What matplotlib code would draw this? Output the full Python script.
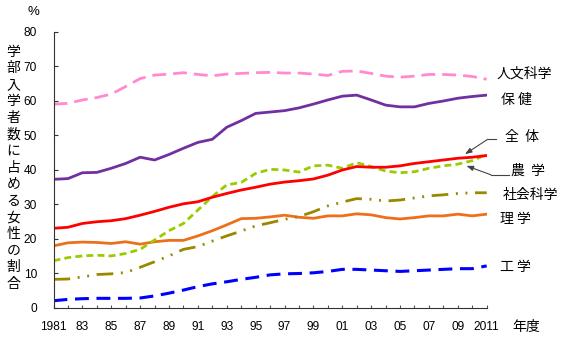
import matplotlib
matplotlib.use("Agg")
import matplotlib.pyplot as plt
from matplotlib.ticker import MultipleLocator

plt.rcParams["font.family"] = ["Liberation Sans", "Noto Sans CJK JP", "DejaVu Sans"]
plt.rcParams["lines.scale_dashes"] = False

years = list(range(1981, 2012))
tick_years = list(range(1981, 2012, 2))
tick_labels = ["1981", "83", "85", "87", "89", "91", "93", "95", "97", "99",
               "01", "03", "05", "07", "09", "2011"]

humanities = [59.1, 59.3, 60.3, 61.0, 62.0, 64.2, 66.5, 67.5, 67.8, 68.2, 67.7,
              67.3, 67.8, 68.0, 68.2, 68.3, 68.1, 68.1, 67.8, 67.4, 68.6, 68.7,
              68.0, 67.2, 66.9, 67.2, 67.7, 67.7, 67.5, 67.1, 66.3]
health = [37.3, 37.5, 39.2, 39.3, 40.5, 41.9, 43.7, 42.9, 44.5, 46.3, 48.0,
          48.9, 52.4, 54.3, 56.4, 56.8, 57.2, 58.0, 59.1, 60.3, 61.4, 61.7,
          60.3, 58.8, 58.3, 58.3, 59.3, 60.0, 60.8, 61.3, 61.7]
total = [23.1, 23.4, 24.5, 25.0, 25.3, 25.9, 26.9, 28.0, 29.2, 30.2, 30.8,
         32.1, 33.2, 34.2, 35.0, 35.9, 36.5, 36.9, 37.4, 38.5, 40.0, 41.0,
         40.8, 40.8, 41.2, 41.9, 42.4, 42.9, 43.4, 43.7, 44.2]
agriculture = [13.7, 14.6, 15.1, 15.3, 15.1, 15.8, 17.0, 19.7, 22.4, 24.5, 28.4,
               32.3, 35.7, 36.4, 39.0, 40.2, 40.0, 39.4, 41.2, 41.4, 40.5, 42.1,
               41.0, 39.7, 39.2, 39.5, 40.5, 41.2, 41.7, 42.7, 44.5]
social = [8.3, 8.4, 9.0, 9.7, 9.9, 10.3, 11.8, 13.4, 15.1, 17.0, 17.8,
          19.4, 20.9, 22.3, 23.8, 24.7, 25.7, 26.5, 27.9, 29.6, 30.7, 31.7,
          31.5, 31.0, 31.3, 31.9, 32.5, 32.8, 33.2, 33.4, 33.4]
science = [18.0, 18.9, 19.1, 19.0, 18.7, 19.2, 18.5, 19.2, 19.6, 19.6, 20.9,
           22.4, 24.1, 25.9, 26.0, 26.4, 26.9, 26.3, 26.0, 26.7, 26.7, 27.3,
           27.0, 26.2, 25.8, 26.2, 26.7, 26.7, 27.2, 26.7, 27.2]
engineering = [2.1, 2.5, 2.7, 2.8, 2.8, 2.8, 2.9, 3.5, 4.3, 5.2, 6.2,
               7.0, 7.6, 8.3, 8.9, 9.6, 9.9, 10.0, 10.2, 10.6, 11.2, 11.2,
               11.0, 10.8, 10.6, 10.8, 11.0, 11.2, 11.4, 11.4, 12.2]

ylabel_text = "学部入学者数に占める女性の割合"

fig = plt.figure(figsize=(5.65, 3.5), dpi=100, facecolor="white")
ax = fig.add_axes([0.0947, 0.12, 0.7667, 0.7886])

ax.plot(years, humanities, color="#FF8AD2", lw=2.0, dashes=(10, 5))
ax.plot(years, health, color="#7030A0", lw=2.0)
ax.plot(years, science, color="#EE6F1A", lw=2.0)
ax.plot(years, social, color="#9C8700", lw=2.0, dashes=(12, 5.5, 1.4, 5.5, 1.4, 5.5))
ax.plot(years, engineering, color="#0000FF", lw=2.2, dashes=(10, 5.5))
ax.plot(years, agriculture, color="#99CC00", lw=2.0, dashes=(5, 3))
ax.plot(years, total, color="#FF0000", lw=2.0)

ax.set_xlim(1981, 2011)
ax.set_ylim(0, 80)
ax.set_xticks(tick_years)
ax.set_xticklabels(tick_labels)
ax.xaxis.set_minor_locator(MultipleLocator(1))
ax.yaxis.set_major_locator(MultipleLocator(10))
ax.tick_params(axis="x", which="both", direction="in", length=2.5, width=0.8,
               color="#555555", labelsize=8.6, pad=9)
ax.tick_params(axis="y", direction="in", length=3, width=0.8,
               color="#333333", labelsize=8.6, pad=12)
for side in ("top", "right"):
    ax.spines[side].set_visible(False)
for side in ("left", "bottom"):
    ax.spines[side].set_color("#333333")
    ax.spines[side].set_linewidth(0.8)

cjk = ["Noto Sans CJK JP", "DejaVu Sans"]
labels = [
    ("人文科学", 2011.7, 68.0),
    ("保 健", 2012.0, 60.3),
    ("全  体", 2012.3, 49.6),
    ("農  学", 2012.7, 39.8),
    ("社会科学", 2012.1, 32.7),
    ("理 学", 2011.9, 25.8),
    ("工 学", 2011.9, 12.0),
]
for text, x, y in labels:
    ax.text(x, y, text, fontsize=10, family=cjk, ha="left", va="center",
            clip_on=False)

# leader arrows for 全体 and 農学
ax.plot([2011.65, 2011.07], [48.9, 48.9], color="#444444", lw=0.8, clip_on=False)
ax.annotate("", xy=(2009.5, 44.6), xytext=(2011.07, 48.9), annotation_clip=False,
            arrowprops=dict(arrowstyle="-|>,head_length=0.4,head_width=0.15",
                            color="#444444", lw=0.8, shrinkA=0, shrinkB=0))
ax.plot([2012.56, 2011.3], [38.6, 38.6], color="#444444", lw=0.8, clip_on=False)
ax.annotate("", xy=(2009.6, 41.2), xytext=(2011.3, 38.6), annotation_clip=False,
            arrowprops=dict(arrowstyle="-|>,head_length=0.4,head_width=0.15",
                            color="#444444", lw=0.8, shrinkA=0, shrinkB=0))

ax.text(2012.8, -5.4, "年度", fontsize=10, family=cjk, ha="left", va="center",
        clip_on=False)
ax.text(1979.6, 85.8, "%", fontsize=9.5, ha="center", va="center", clip_on=False)

# vertical y label, one character per line
n = len(ylabel_text)
for i, ch in enumerate(ylabel_text):
    ypix = 51.7 + i * (284.0 - 51.7) / (n - 1)
    fig.text(13.5 / 565, 1 - ypix / 350, ch, fontsize=10, family=cjk,
             ha="center", va="center")

fig.savefig("out.png", dpi=100, facecolor="white")
